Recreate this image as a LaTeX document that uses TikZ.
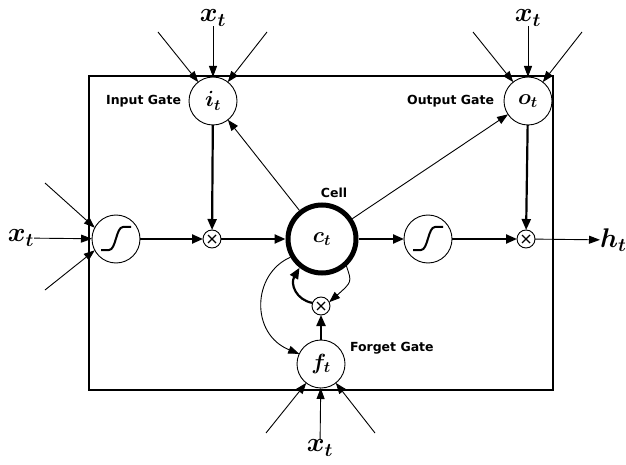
\RequirePackage{fix-cm}
\documentclass[tikz,border=0pt]{standalone}
\usepackage{fontspec}
\setsansfont{DejaVu Sans}
\usepackage{amsmath}
\usepackage{tikz}
\tikzset{
  every node/.style = {
    inner sep = 0pt,
    outer sep = 0pt
  }
}
\usetikzlibrary{
arrows.meta
}
\begin{document}
\begin{tikzpicture}[
      x=1pt, y=1pt,
      gate/.style={
        circle, draw, fill=white, line width=0.9pt,
        minimum size=48pt,
        font=\fontsize{22}{24}\selectfont\boldmath,
      },
      squash/.style={
        gate,
        path picture={
          \draw [line width=2pt]
          ([shift={(-15pt,-11pt)}]path picture bounding box.center)
          -- ++(8pt,0pt) .. controls +(7pt,0pt) and +(-7pt,0pt) .. ++(14pt,23pt)
          -- ++(8pt,0pt);
        },
      },
      mult/.style={
        circle, draw, fill=white, line width=0.9pt,
        minimum size=18pt,
        path picture={
          \draw [line width=1.4pt]
          ([shift={(-4pt,-4pt)}]path picture bounding box.center)
          -- ++(8pt,8pt)
          ([shift={(-4pt,4pt)}]path picture bounding box.center)
          -- ++(8pt,-8pt);
        },
      },
      cell/.style={
        gate, line width=5pt, minimum size=68pt, outer sep=2.5pt,
      },
      input/.style={
        font=\fontsize{27}{29}\selectfont\boldmath,
      },
      caption/.style={
        font=\sffamily\bfseries\fontsize{12.5}{14}\selectfont,
      },
      thickarrow/.style={
        line width=2.2pt,
        -{Triangle[length=11pt,width=9pt]},
      },
      thinarrow/.style={
        line width=0.9pt,
        -{Triangle[length=11pt,width=8pt]},
      },
      ]
      \useasboundingbox (0,0) rectangle (626,464);
      \draw [line width=1.4pt] (89,74) rectangle (553,388);

      \node [gate, name=node-input] at (213,363) {$i_t$};
      \node [gate, name=node-output] at (528,363) {$o_t$};
      \node [squash, name=node-squash-in] at (116,225) {};
      \node [mult, name=node-mult-in] at (212,225) {};
      \node [cell, name=node-cell] at (322,225) {$c_t$};
      \node [squash, name=node-squash-out] at (428,225) {};
      \node [mult, name=node-mult-out] at (526,225) {};
      \node [mult, name=node-mult-forget] at (321,158) {};
      \node [gate, name=node-forget] at (321,100) {$f_t$};

      \node [caption, anchor=east, name=node-input-text] at (181,363) {Input Gate};
      \node [caption, anchor=east, name=node-output-text] at (494,363) {Output Gate};
      \node [caption, anchor=west, name=node-forget-text] at (350,116) {Forget Gate};
      \node [caption, name=node-cell-text] at (334,271) {Cell};

      \node [input, name=node-x-input] at (213,446) {$x_t$};
      \node [input, name=node-x-output] at (528,446) {$x_t$};
      \node [input, name=node-x-squash] at (21,226) {$x_t$};
      \node [input, name=node-x-forget] at (320,16) {$x_t$};
      \node [input, anchor=west, name=node-h] at (600,224) {$h_t$};

      \coordinate (in-left) at (158,432);
      \coordinate (in-right) at (267,432);
      \coordinate (out-left) at (473,432);
      \coordinate (out-right) at (582,432);
      \coordinate (sq-top) at (45,281);
      \coordinate (sq-bottom) at (45,174);
      \coordinate (fg-left) at (266,31);
      \coordinate (fg-right) at (375,31);

      \draw [thinarrow] (node-x-input) -- (node-input);
      \draw [thinarrow] (in-left) -- (node-input.128);
      \draw [thinarrow] (in-right) -- (node-input.52);
      \draw [thinarrow] (node-x-output) -- (node-output);
      \draw [thinarrow] (out-left) -- (node-output.128);
      \draw [thinarrow] (out-right) -- (node-output.52);
      \draw [thinarrow] (node-x-squash) -- (node-squash-in);
      \draw [thinarrow] (sq-top) -- (node-squash-in.152);
      \draw [thinarrow] (sq-bottom) -- (node-squash-in.208);
      \draw [thinarrow] (node-x-forget) -- (node-forget);
      \draw [thinarrow] (fg-left) -- (node-forget.-128);
      \draw [thinarrow] (fg-right) -- (node-forget.-52);

      \draw [thickarrow] (node-squash-in) -- (node-mult-in);
      \draw [thickarrow] (node-input) -- (node-mult-in);
      \draw [thickarrow] (node-mult-in) -- (node-cell);
      \draw [thickarrow] (node-cell) -- (node-squash-out);
      \draw [thickarrow] (node-squash-out) -- (node-mult-out);
      \draw [thickarrow] (node-output) -- (node-mult-out);
      \draw [thinarrow] (node-mult-out) -- (node-h);

      \draw [thinarrow] (node-cell) -- (node-input);
      \draw [thinarrow] (node-cell) -- (node-output);
      \draw [thinarrow] (node-cell.210) .. controls (252,190) and (250,130) .. (node-forget.155);
      \draw [thinarrow] (node-cell.-48) .. controls (352,182) .. (node-mult-forget.25);
      \draw [thickarrow] (node-forget) -- (node-mult-forget);
      \draw [thickarrow] (node-mult-forget.160) .. controls (296,164) and (290,180) .. (node-cell.232);
    \end{tikzpicture}
\end{document}
